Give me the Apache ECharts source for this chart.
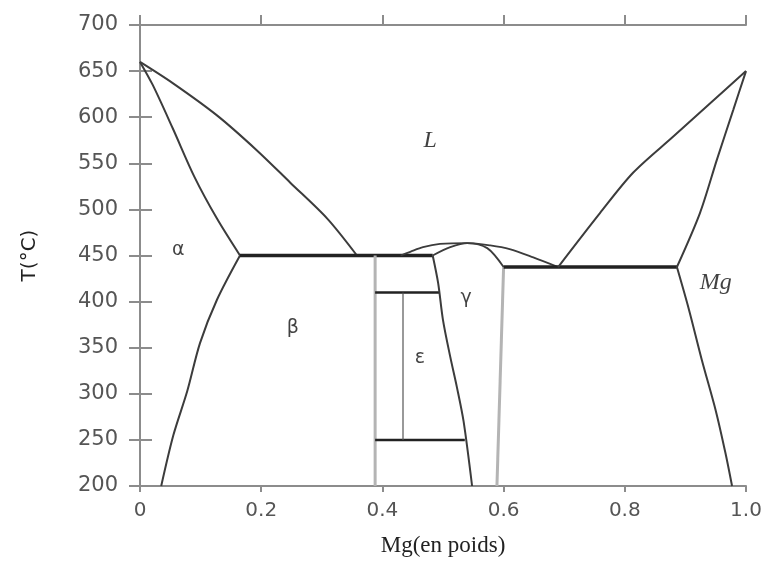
<!DOCTYPE html>
<html>
<head>
<meta charset="utf-8">
<script src="https://cdn.jsdelivr.net/npm/echarts@6/dist/echarts.min.js"></script>
<style>
  html, body { margin: 0; padding: 0; background: #fff; }
  #chart { width: 766px; height: 563px; }
</style>
</head>
<body>
<div id="chart"></div>
<script>
// ticks
var xTicks = [0, 0.2, 0.4, 0.6, 0.8, 1.0];
var yTicks = [200, 250, 300, 350, 400, 450, 500, 550, 600, 650, 700];

// côté Al
var liqAl = [[0, 660], [0.054, 637], [0.127, 602], [0.193, 564], [0.248, 529], [0.309, 490], [0.358, 450]];
var solAl = [[0, 660], [0.021, 635], [0.054, 588], [0.09, 535], [0.127, 490], [0.165, 450]];
var solvAl = [[0.165, 450], [0.127, 402], [0.099, 355], [0.078, 303], [0.055, 255], [0.035, 200]];
var eutBeta = [[0.165, 450], [0.483, 450]];

// milieu (beta, epsilon, gamma)
var betaLine = [[0.388, 450], [0.388, 200]];
var epsTop = [[0.388, 410], [0.495, 410]];
var epsBottom = [[0.388, 250], [0.536, 250]];
var epsMid = [[0.434, 410], [0.434, 250]];
var liqDome = [[0.43, 450], [0.446, 454], [0.467, 459], [0.495, 462.5], [0.54, 463.5], [0.578, 461], [0.61, 457], [0.649, 448], [0.69, 437.5]];
var solGamma = [[0.483, 450], [0.512, 459], [0.54, 463.5], [0.573, 458], [0.6, 437.5]];
var gammaLeft = [[0.483, 450], [0.492, 420], [0.5, 380], [0.512, 340], [0.523, 307], [0.534, 270], [0.548, 200]];
var gammaRight = [[0.6, 437.5], [0.589, 200]];

// côté Mg
var eutMg = [[0.6, 437.5], [0.886, 437.5]];
var liqMg = [[0.69, 437.5], [0.759, 496], [0.814, 540], [0.88, 579], [0.946, 618], [1, 650]];
var solMg = [[0.886, 437.5], [0.924, 496], [0.952, 554], [0.979, 608], [1, 650]];
var solvMg = [[0.886, 437.5], [0.906, 391], [0.927, 337], [0.95, 282], [0.966, 236], [0.977, 200]];

// étiquettes des phases
var phaseNames = ['L', 'α', 'β', 'γ', 'ε', 'Mg'];
var phasePos = [[0.479, 575], [0.063, 456], [0.252, 371], [0.538, 404], [0.462, 339], [0.95, 421]];

var chart = echarts.init(document.getElementById('chart'));

function curve(data, color, width, smooth) {
    return {
        type: 'line',
        data: data,
        showSymbol: false,
        smooth: smooth || 0,
        silent: true,
        lineStyle: { color: color, width: width },
        z: 3
    };
}

var thin = '#3c3c3c';
var thick = '#222';
var grey = '#b4b4b4';

var labelSeries = {
    type: 'scatter',
    symbolSize: 0,
    silent: true,
    z: 5,
    data: phaseNames.map(function (n, i) {
        var italic = (n === 'L' || n === 'Mg');
        return {
            value: phasePos[i],
            label: {
                show: true,
                position: 'inside',
                formatter: n,
                color: '#111',
                fontFamily: italic ? 'Liberation Serif' : 'DejaVu Sans',
                fontStyle: italic ? 'italic' : 'normal',
                fontSize: italic ? 24 : 19
            }
        };
    })
};

var axisGrey = '#8c8c8c';

var option = {
    backgroundColor: '#fff',
    animation: false,
    grid: { left: 140, right: 20, top: 25, bottom: 77 },
    xAxis: [{
        type: 'value', min: 0, max: 1, interval: 0.2,
        name: 'Mg(en poids)', nameLocation: 'middle', nameGap: 48,
        nameTextStyle: { fontFamily: 'Liberation Serif', fontSize: 23, color: '#222' },
        axisLine: { lineStyle: { color: axisGrey, width: 2 } },
        axisTick: { length: 6, lineStyle: { color: axisGrey, width: 2 } },
        axisLabel: {
            margin: 15, fontSize: 20, color: '#555', fontFamily: 'DejaVu Sans',
            formatter: function (v) { return v === 0 ? '0' : v.toFixed(1); }
        },
        splitLine: { show: false }
    }, {
        type: 'value', min: 0, max: 1, interval: 0.2, position: 'top',
        axisLine: { lineStyle: { color: axisGrey, width: 2 } },
        axisTick: { length: 10, lineStyle: { color: axisGrey, width: 2 } },
        axisLabel: { show: false },
        splitLine: { show: false }
    }],
    yAxis: [{
        type: 'value', min: 200, max: 700, interval: 50,
        name: 'T(°C)', nameLocation: 'middle', nameGap: 100, nameRotate: 90,
        nameTextStyle: { fontFamily: 'DejaVu Sans', fontSize: 20, color: '#222' },
        axisLine: { lineStyle: { color: axisGrey, width: 2 } },
        axisTick: { length: 11, lineStyle: { color: axisGrey, width: 2 } },
        axisLabel: { margin: 22, fontSize: 21, color: '#555', fontFamily: 'DejaVu Sans' },
        splitLine: { show: false }
    }, {
        type: 'value', min: 200, max: 700, interval: 50, position: 'right',
        axisLine: { lineStyle: { color: axisGrey, width: 2 } },
        axisTick: { length: 12, lineStyle: { color: axisGrey, width: 2 } },
        axisLabel: { show: false },
        splitLine: { show: false }
    }],
    series: [
        curve(liqAl, thin, 2, 0.3),
        curve(solAl, thin, 2, 0.3),
        curve(solvAl, thin, 2, 0.3),
        curve(eutBeta, thick, 3.5),
        curve(betaLine, grey, 3),
        curve(epsTop, thick, 2.5),
        curve(epsBottom, thick, 2.5),
        curve(epsMid, '#555', 1.2),
        curve(liqDome, thin, 1.8, 0.3),
        curve(solGamma, thin, 1.8, 0.3),
        curve(gammaLeft, thin, 2, 0.3),
        curve(gammaRight, grey, 3),
        curve(eutMg, thick, 3.5),
        curve(liqMg, thin, 2, 0.3),
        curve(solMg, thin, 2, 0.3),
        curve(solvMg, thin, 2, 0.3),
        labelSeries
    ]
};

chart.setOption(option);
</script>
</body>
</html>
